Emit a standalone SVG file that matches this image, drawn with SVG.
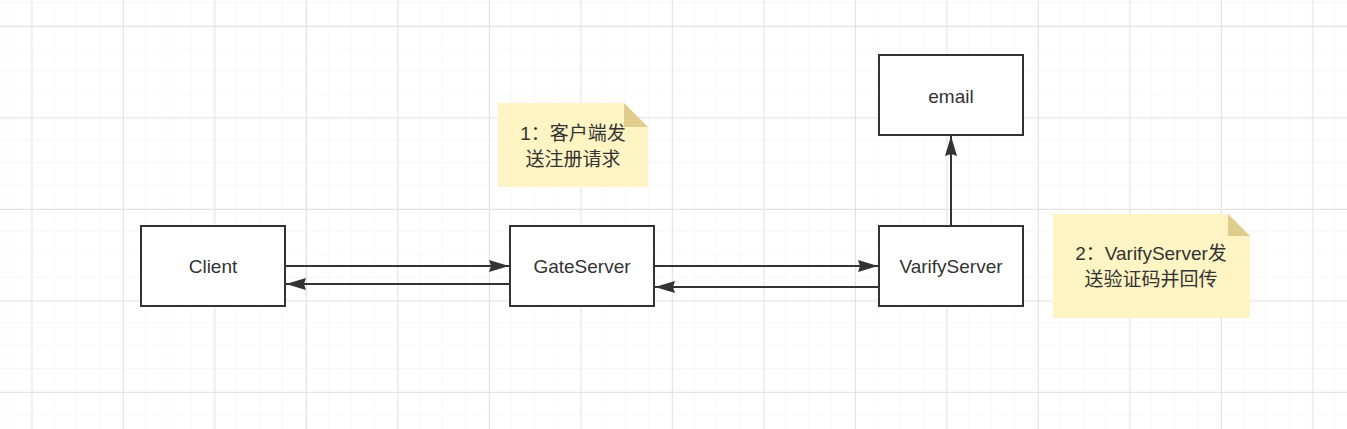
<svg xmlns="http://www.w3.org/2000/svg" width="1347" height="429" viewBox="0 0 1347 429">
<defs>
<pattern id="minor" x="8.5" y="3" width="22.875" height="22.875" patternUnits="userSpaceOnUse">
<path d="M22.875 0V22.875M0 22.875H22.875" fill="none" stroke="#f2f2f2" stroke-width="1"/>
</pattern>
<pattern id="major" x="31.5" y="26" width="91.5" height="91.5" patternUnits="userSpaceOnUse">
<path d="M0.5 0V91.5M0 0.5H91.5" fill="none" stroke="#e4e4e4" stroke-width="1"/>
</pattern>
<marker id="arr" viewBox="0 0 10 10" refX="10" refY="5" markerWidth="10" markerHeight="10" markerUnits="userSpaceOnUse" orient="auto">
<path d="M0 0L10 5L0 10Z" fill="#333333"/>
</marker>
<marker id="arrb" viewBox="0 0 20 12" refX="20" refY="6" markerWidth="20" markerHeight="12" markerUnits="userSpaceOnUse" orient="auto">
<path d="M0 0L20 6L0 12L2 6Z" fill="#333333"/>
</marker>
<style>
.box{fill:#ffffff;stroke:#333333;stroke-width:2}
.t{font-family:"Liberation Sans","Noto Sans CJK SC",sans-serif;font-size:19px;fill:#333333;text-anchor:middle;dominant-baseline:central}
.edge{fill:none;stroke:#333333;stroke-width:2;marker-end:url(#arrb)}
.note{fill:#fff4c3}
.fold{fill:#dfcd8e}
</style>
</defs>
<rect width="1347" height="429" fill="#ffffff"/>
<rect width="1347" height="429" fill="url(#minor)"/>
<rect width="1347" height="429" fill="url(#major)"/>
<g id="connectors">
<path class="edge" d="M286 266H509"/>
<path class="edge" d="M509 284H286"/>
<path class="edge" d="M655 266H878"/>
<path class="edge" d="M878 287H655"/>
<path class="edge" d="M951 225V136"/>
</g>
<g id="client">
<rect class="box" x="141" y="226" width="144" height="80"/>
<text class="t" x="213" y="266">Client</text>
</g>
<g id="gateserver">
<rect class="box" x="510" y="226" width="144" height="80"/>
<text class="t" x="582" y="266">GateServer</text>
</g>
<g id="varifyserver">
<rect class="box" x="879" y="226" width="144" height="80"/>
<text class="t" x="951" y="266">VarifyServer</text>
</g>
<g id="email">
<rect class="box" x="879" y="55" width="144" height="80"/>
<text class="t" x="951" y="96">email</text>
</g>
<g id="note1">
<path class="note" d="M498 103H624L648 127V187H498Z"/>
<path class="fold" d="M624 103L648 127H624Z"/>
<text class="t" x="573" y="133">1：客户端发</text>
<text class="t" x="573" y="159">送注册请求</text>
</g>
<g id="note2">
<path class="note" d="M1053 214H1228L1250 236V318H1053Z"/>
<path class="fold" d="M1228 214L1250 236H1228Z"/>
<text class="t" x="1151" y="253">2：VarifyServer发</text>
<text class="t" x="1151" y="279">送验证码并回传</text>
</g>
</svg>
